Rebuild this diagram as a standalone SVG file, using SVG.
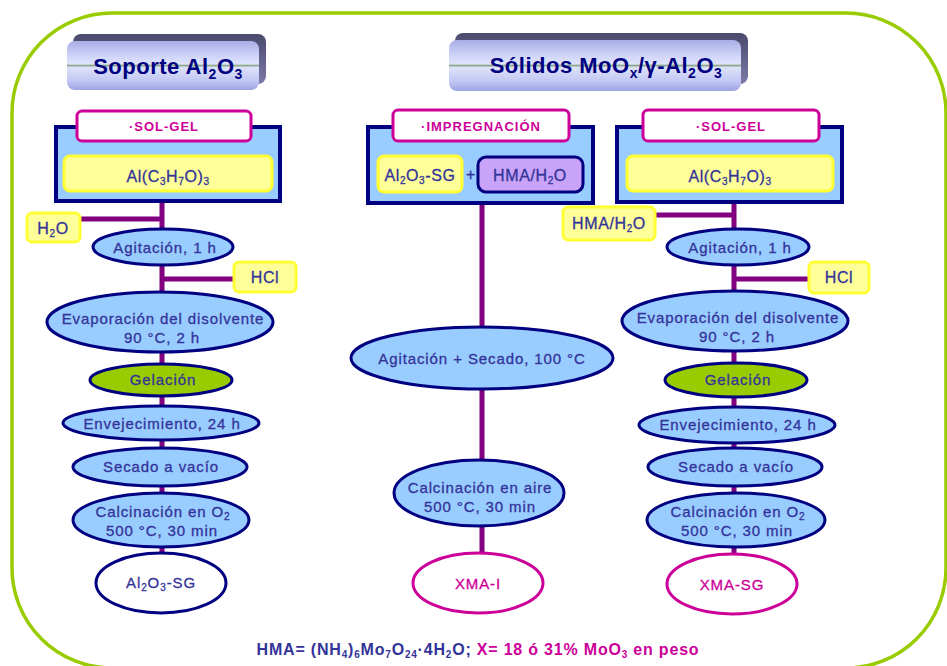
<svg xmlns="http://www.w3.org/2000/svg" width="947" height="666" viewBox="0 0 947 666">
<defs>
<linearGradient id="btn" x1="0" y1="0" x2="0" y2="1">
<stop offset="0" stop-color="#a9aee6"/>
<stop offset="0.35" stop-color="#d4d9fb"/>
<stop offset="0.47" stop-color="#dfe3fb"/>
<stop offset="0.5" stop-color="#8fa98c"/>
<stop offset="0.54" stop-color="#dde2fa"/>
<stop offset="0.8" stop-color="#c3c8f4"/>
<stop offset="1" stop-color="#9ea3e4"/>
</linearGradient>
<linearGradient id="btnTop" x1="0" y1="0" x2="0" y2="1">
<stop offset="0" stop-color="#4a4a6e"/>
<stop offset="1" stop-color="#7a7aa6"/>
</linearGradient>
</defs>
<style>
text{font-family:"Liberation Sans",Arial,sans-serif;}
.frame{fill:none;stroke:#99cc00;stroke-width:3.5;}
.title{font-size:22px;font-weight:bold;fill:#000080;text-anchor:middle;letter-spacing:0.5px;}
.lbl{fill:#ffffff;stroke:#cc0099;stroke-width:3;}
.lbltx{font-size:13px;font-weight:bold;fill:#cc0099;text-anchor:middle;letter-spacing:1px;}
.panel{fill:#99ccff;stroke:#000080;stroke-width:4;}
.yel{fill:#ffff99;stroke:#ffff33;stroke-width:3;}
.vio{fill:#c9a3f7;stroke:#000080;stroke-width:3;}
.el{fill:#99ccff;stroke:#000080;stroke-width:3;}
.gel{fill:#99cc00;stroke:#000080;stroke-width:3;}
.res{fill:#ffffff;stroke:#000080;stroke-width:3;}
.resp{fill:#ffffff;stroke:#cc0099;stroke-width:3;}
.tx{font-size:15px;fill:#333399;text-anchor:middle;letter-spacing:0.9px;stroke:#333399;stroke-width:0.3px;}
.txp{font-size:15px;fill:#cc0099;text-anchor:middle;letter-spacing:0.9px;stroke:#cc0099;stroke-width:0.3px;}
.box{font-size:16px;fill:#333399;text-anchor:middle;letter-spacing:0.6px;stroke:#333399;stroke-width:0.3px;}
.conn{stroke:#800080;stroke-width:5;fill:none;}
.sub{font-size:10px;}
</style>

<rect class="frame" x="12" y="13" width="934" height="655" rx="100" ry="100"/>

<g id="title-soporte">
<rect x="73" y="34" width="193" height="50" rx="8" fill="url(#btnTop)"/>
<rect x="67" y="41" width="192" height="49" rx="8" fill="url(#btn)"/>
<text class="title" x="168" y="74">Soporte Al<tspan font-size="14" dy="5">2</tspan><tspan dy="-5">O</tspan><tspan font-size="14" dy="5">3</tspan></text>
</g>

<g id="title-solidos">
<rect x="455" y="33" width="293" height="51" rx="8" fill="url(#btnTop)"/>
<rect x="449" y="40" width="292" height="51" rx="8" fill="url(#btn)"/>
<text class="title" x="606" y="73">Sólidos MoO<tspan font-size="14" dy="5">x</tspan><tspan dy="-5">/γ-Al</tspan><tspan font-size="14" dy="5">2</tspan><tspan dy="-5">O</tspan><tspan font-size="14" dy="5">3</tspan></text>
</g>

<g id="connectors">
<line class="conn" x1="162" y1="201" x2="162" y2="556"/>
<line class="conn" x1="80" y1="219" x2="162" y2="219"/>
<line class="conn" x1="162" y1="279" x2="234" y2="279"/>
<line class="conn" x1="482" y1="203" x2="482" y2="556"/>
<line class="conn" x1="734" y1="202" x2="734" y2="556"/>
<line class="conn" x1="655" y1="215" x2="734" y2="215"/>
<line class="conn" x1="734" y1="279" x2="809" y2="279"/>
</g>

<!-- Left column -->
<g id="panel-solgel-left">
<rect class="panel" x="56" y="127" width="224" height="74"/>
<rect class="lbl" x="77" y="111" width="174" height="30" rx="5"/>
<text class="lbltx" x="164" y="131">·SOL-GEL</text>
<rect class="yel" x="64" y="156" width="208" height="35" rx="6"/>
<text class="box" x="168" y="182">Al(C<tspan class="sub" dy="3">3</tspan><tspan dy="-3">H</tspan><tspan class="sub" dy="3">7</tspan><tspan dy="-3">O)</tspan><tspan class="sub" dy="3">3</tspan></text>
</g>
<g id="h2o-left">
<rect class="yel" x="27" y="213" width="53" height="29" rx="5"/>
<text class="box" x="53" y="234" font-size="15">H<tspan class="sub" dy="3">2</tspan><tspan dy="-3">O</tspan></text>
</g>
<g id="agit-left">
<ellipse class="el" cx="163" cy="247" rx="70" ry="18"/>
<text class="tx" x="165" y="253">Agitación, 1 h</text>
</g>
<g id="hcl-left">
<rect class="yel" x="234" y="262" width="62" height="30" rx="5"/>
<text class="box" x="265" y="283" font-size="15">HCl</text>
</g>
<g id="evap-left">
<ellipse class="el" cx="160" cy="322" rx="113" ry="30"/>
<text class="tx" x="163" y="324">Evaporación del disolvente</text>
<text class="tx" x="162" y="343">90 °C, 2 h</text>
</g>
<g id="gel-left">
<ellipse class="gel" cx="161" cy="380" rx="71" ry="16"/>
<text class="tx" x="163" y="385">Gelación</text>
</g>
<g id="env-left">
<ellipse class="el" cx="161" cy="423" rx="98" ry="17"/>
<text class="tx" x="162" y="429">Envejecimiento, 24 h</text>
</g>
<g id="sec-left">
<ellipse class="el" cx="160" cy="467" rx="87" ry="19"/>
<text class="tx" x="161" y="472">Secado a vacío</text>
</g>
<g id="calc-left">
<ellipse class="el" cx="161" cy="520" rx="88" ry="27"/>
<text class="tx" x="163" y="517">Calcinación en O<tspan class="sub" dy="3">2</tspan></text>
<text class="tx" x="162" y="536">500 °C, 30 min</text>
</g>
<g id="res-left">
<ellipse class="res" cx="161" cy="583" rx="65" ry="30"/>
<text class="tx" x="161" y="588">Al<tspan class="sub" dy="3">2</tspan><tspan dy="-3">O</tspan><tspan class="sub" dy="3">3</tspan><tspan dy="-3">-SG</tspan></text>
</g>

<!-- Middle column -->
<g id="panel-impreg">
<rect class="panel" x="368" y="127" width="225" height="76"/>
<rect class="lbl" x="393" y="110" width="176" height="31" rx="5"/>
<text class="lbltx" x="481" y="131">·IMPREGNACIÓN</text>
<rect class="yel" x="378" y="156" width="84" height="36" rx="6"/>
<text class="box" x="420" y="181" font-size="15">Al<tspan class="sub" dy="3">2</tspan><tspan dy="-3">O</tspan><tspan class="sub" dy="3">3</tspan><tspan dy="-3">-SG</tspan></text>
<text class="box" x="471" y="180" font-size="15">+</text>
<rect class="vio" x="478" y="157" width="105" height="35" rx="8"/>
<text class="box" x="530" y="181" font-size="15">HMA/H<tspan class="sub" dy="3">2</tspan><tspan dy="-3">O</tspan></text>
</g>
<g id="agit-mid">
<ellipse class="el" cx="482" cy="358" rx="131" ry="31"/>
<text class="tx" x="482" y="364">Agitación + Secado, 100 °C</text>
</g>
<g id="calc-mid">
<ellipse class="el" cx="479" cy="493" rx="85" ry="33"/>
<text class="tx" x="480" y="493">Calcinación en aire</text>
<text class="tx" x="480" y="512">500 °C, 30 min</text>
</g>
<g id="res-mid">
<ellipse class="resp" cx="478" cy="583" rx="65" ry="30"/>
<text class="txp" x="478" y="589">XMA-I</text>
</g>

<!-- Right column -->
<g id="panel-solgel-right">
<rect class="panel" x="617" y="127" width="225" height="75"/>
<rect class="lbl" x="643" y="110" width="176" height="31" rx="5"/>
<text class="lbltx" x="731" y="131">·SOL-GEL</text>
<rect class="yel" x="627" y="156" width="206" height="35" rx="6"/>
<text class="box" x="730" y="182">Al(C<tspan class="sub" dy="3">3</tspan><tspan dy="-3">H</tspan><tspan class="sub" dy="3">7</tspan><tspan dy="-3">O)</tspan><tspan class="sub" dy="3">3</tspan></text>
</g>
<g id="hma-right">
<rect class="yel" x="563" y="207" width="92" height="33" rx="5"/>
<text class="box" x="609" y="229" font-size="15">HMA/H<tspan class="sub" dy="3">2</tspan><tspan dy="-3">O</tspan></text>
</g>
<g id="agit-right">
<ellipse class="el" cx="738" cy="247" rx="71" ry="18"/>
<text class="tx" x="740" y="253">Agitación, 1 h</text>
</g>
<g id="hcl-right">
<rect class="yel" x="809" y="262" width="60" height="31" rx="5"/>
<text class="box" x="839" y="283" font-size="15">HCl</text>
</g>
<g id="evap-right">
<ellipse class="el" cx="735" cy="321" rx="113" ry="30"/>
<text class="tx" x="738" y="323">Evaporación del disolvente</text>
<text class="tx" x="737" y="342">90 °C, 2 h</text>
</g>
<g id="gel-right">
<ellipse class="gel" cx="736" cy="380" rx="71" ry="17"/>
<text class="tx" x="738" y="385">Gelación</text>
</g>
<g id="env-right">
<ellipse class="el" cx="737" cy="425" rx="98" ry="18"/>
<text class="tx" x="738" y="430">Envejecimiento, 24 h</text>
</g>
<g id="sec-right">
<ellipse class="el" cx="735" cy="467" rx="87" ry="19"/>
<text class="tx" x="736" y="472">Secado a vacío</text>
</g>
<g id="calc-right">
<ellipse class="el" cx="736" cy="520" rx="89" ry="27"/>
<text class="tx" x="738" y="517">Calcinación en O<tspan class="sub" dy="3">2</tspan></text>
<text class="tx" x="737" y="536">500 °C, 30 min</text>
</g>
<g id="res-right">
<ellipse class="resp" cx="732" cy="584" rx="65" ry="30"/>
<text class="txp" x="732" y="590">XMA-SG</text>
</g>

<g id="footer">
<text x="478" y="655" font-size="16" font-weight="bold" text-anchor="middle" letter-spacing="0.8"><tspan fill="#333399">HMA= (NH<tspan class="sub" dy="3">4</tspan><tspan dy="-3">)</tspan><tspan class="sub" dy="3">6</tspan><tspan dy="-3">Mo</tspan><tspan class="sub" dy="3">7</tspan><tspan dy="-3">O</tspan><tspan class="sub" dy="3">24</tspan><tspan dy="-3">·4H</tspan><tspan class="sub" dy="3">2</tspan><tspan dy="-3">O;</tspan></tspan><tspan fill="#cc0099"> X= 18 ó 31% MoO<tspan class="sub" dy="3">3</tspan><tspan dy="-3"> en peso</tspan></tspan></text>
</g>
</svg>
